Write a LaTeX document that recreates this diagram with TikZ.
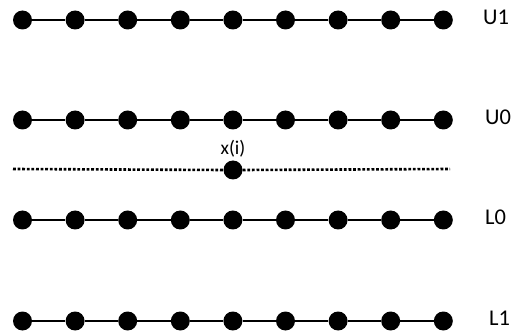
\documentclass[tikz,border=0pt]{standalone}
\usepackage{fontspec}
\setmainfont{Carlito}
\begin{document}
\begin{tikzpicture}[x=1pt,y=-1pt,
  dotnode/.style={circle,fill=black,inner sep=0pt,minimum size=19pt},
  rowlabel/.style={anchor=west,inner sep=0pt,font=\fontsize{22.5}{26}\selectfont},
  link/.style={line width=1.6pt},
  guide/.style={line width=2.6pt,dash pattern=on 2.8pt off 1.8pt}]
\useasboundingbox (0,0) rectangle (520,334);
\foreach \r/\yy in {U1/20,U0/120,L0/220,L1/321}{
  \foreach \k in {0,...,8}{
    \node[dotnode] (\r-\k) at ({22.5+52.6*\k},\yy) {};
  }
  \foreach \k [evaluate=\k as \j using int(\k+1)] in {0,...,7}{
    \draw[link] (\r-\k) -- (\r-\j);
  }
}
\node[rowlabel] (lU1) at (483,17) {U1};
\node[rowlabel] (lU0) at (485,117) {U0};
\node[rowlabel] (lL0) at (485,217) {L0};
\node[rowlabel] (lL1) at (489,318) {L1};
\coordinate (gl) at (13,169);
\coordinate (gr) at (450,169);
\node[dotnode] (xi) at (233,170) {};
\draw[guide] (gl) -- (xi.west);
\draw[guide] (xi.east) -- (gr);
\node[font=\fontsize{19.5}{22}\selectfont,inner sep=0pt] (xilabel) at (233,149) {x(i)};
\end{tikzpicture}
\end{document}
